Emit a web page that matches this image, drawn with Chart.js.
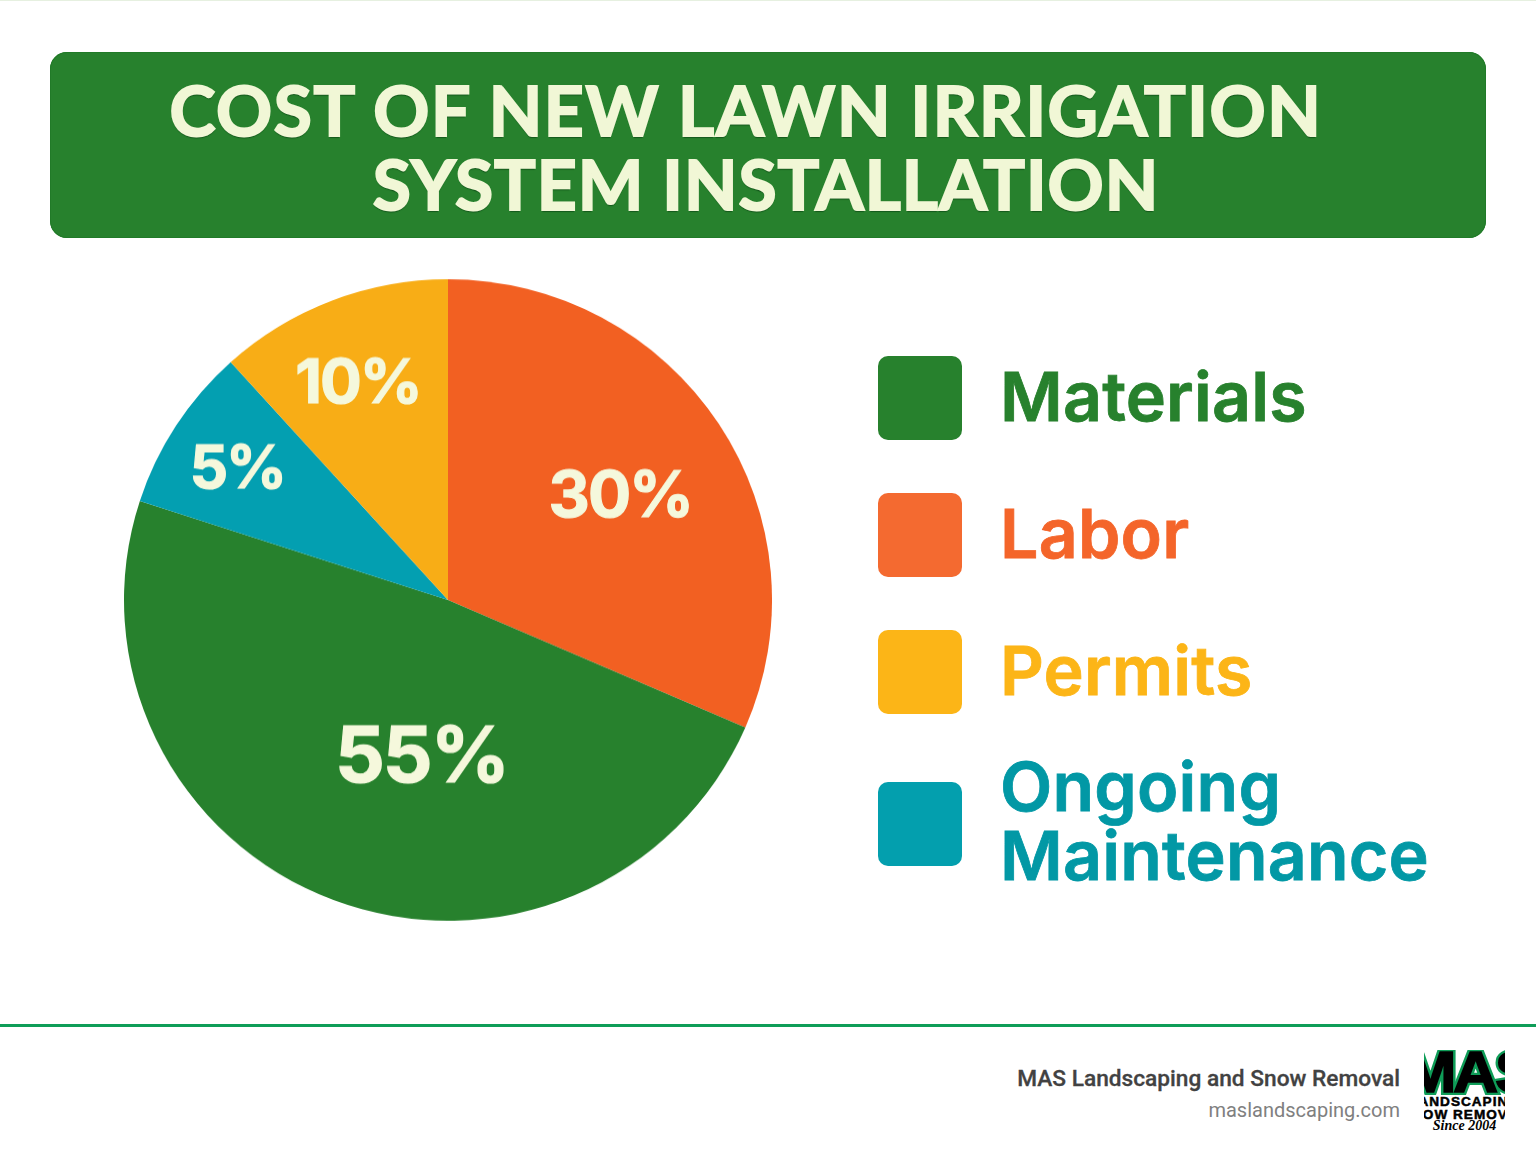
<!DOCTYPE html>
<html>
<head>
<meta charset="utf-8">
<title>Cost of new lawn irrigation system installation</title>
<script src="https://cdn.jsdelivr.net/npm/chart.js@4"></script>
<style>
  html, body { margin: 0; padding: 0; background: #fff; }
  #page { position: relative; width: 1536px; height: 1154px; overflow: hidden; background: #fff; }
  #topline { position: absolute; left: 0; top: 0; width: 1536px; height: 1px; background: #e6f0e0; }
  #banner { position: absolute; left: 50px; top: 52px; width: 1436px; height: 186px; border-radius: 17px; background: #27812d; box-shadow: inset 0 0 0 1px #217a28; }
  #banner div {
    position: absolute; left: 0; text-align: center; white-space: nowrap;
    font: 700 69.5px Lato, sans-serif; color: #f1f7d6;
    -webkit-text-stroke: 2px #f1f7d6; text-shadow: 0 2px 1px #14581c;
  }
  #chartBox { position: absolute; left: 124px; top: 276px; width: 648px; height: 648px; transform: scaleY(0.99); transform-origin: 50% 50%; }
  .swatch { position: absolute; left: 878px; width: 84px; height: 84px; border-radius: 10px; }
  .legendText { position: absolute; left: 1000px; font: 600 68px/69px Inter, sans-serif; letter-spacing: 0.2px; white-space: nowrap; -webkit-text-stroke: 0.8px currentColor; }
  #rule { position: absolute; left: 0; top: 1024px; width: 1536px; height: 3px; background: #0f9d58; }
  #company { position: absolute; right: 136px; top: 1065px; font: 500 22.7px Roboto, sans-serif; color: #424242; white-space: nowrap; -webkit-text-stroke: 0.3px #424242; }
  #site { position: absolute; right: 136px; top: 1098px; font: 400 20px Roboto, sans-serif; color: #808080; white-space: nowrap; }
  #logo { position: absolute; left: 1424px; top: 1050px; width: 81px; height: 86px; overflow: hidden; color: #000; }
  #logo div { position: absolute; text-align: center; white-space: nowrap; }
  .logoBig {
    left: -14px; width: 117px; top: -7px; font: 900 57px/58px "Liberation Sans", sans-serif; letter-spacing: -3px;
    transform: scaleX(1.1);
  }
  #logoBack { color: #0f9d58; -webkit-text-stroke: 6px #0f9d58; }
  #logoFront { color: #000; -webkit-text-stroke: 1.5px #000; }
  .logoSmall { left: -24px; width: 129px; font: 900 13.6px/13px "Liberation Sans", sans-serif; letter-spacing: 1px; -webkit-text-stroke: 0.5px #000; }
  #logoSince { left: 0; width: 81px; top: 69px; font: italic 700 14px/14px "Liberation Serif", serif; }
</style>
</head>
<body>
<div id="page">
  <div id="topline"></div>
  <div id="banner">
    <div style="top:15px;width:1392px;letter-spacing:1.6px">COST OF NEW LAWN IRRIGATION</div>
    <div style="top:89px;width:1432px;letter-spacing:1px">SYSTEM INSTALLATION</div>
  </div>
  <div id="chartBox"><canvas id="pie" width="648" height="648"></canvas></div>
  <div id="legend"></div>
  <div id="rule"></div>
  <div id="company">MAS Landscaping and Snow Removal</div>
  <div id="site">maslandscaping.com</div>
  <div id="logo">
    <div class="logoBig" id="logoBack">MAS</div>
    <div class="logoBig" id="logoFront">MAS</div>
    <div class="logoSmall" style="top:45px">LANDSCAPING</div>
    <div class="logoSmall" style="top:58px">SNOW REMOVAL</div>
    <div id="logoSince">Since 2004</div>
  </div>
</div>
<script>
// slices in clockwise order from 12 o'clock, sizes as drawn in the picture
const categories = ['Labor', 'Materials', 'Ongoing Maintenance', 'Permits'];
const sliceSizes = [31.5, 48.5, 8.3, 11.7];
const sliceLabels = ['30%', '55%', '5%', '10%'];
const sliceColors = ['#f26022', '#27812d', '#039fb1', '#f8ad16'];

// legend order, top to bottom
const legendNames = ['Materials', 'Labor', 'Permits', 'Ongoing Maintenance'];
const legendColors = ['#27812d', '#f46a30', '#fcb517', '#039fae'];
const legendTextColors = ['#27812d', '#f4652a', '#fcb517', '#0298a5'];
const legendSwatchTops = [356, 493, 630, 782];
const legendTextTops = [362, 499, 636, 752];

// where each label sits relative to its slice centre: radius share and angle shift (rad)
const labelRadius = [0.625, 0.4926, 0.77, 0.735];
const labelShift = [0.028, -0.194, -0.01, -0.02];
const labelFont = [64, 78, 60, 62];

const legendEl = document.getElementById('legend');
legendNames.forEach((name, i) => {
  const sw = document.createElement('div');
  sw.className = 'swatch';
  sw.style.top = legendSwatchTops[i] + 'px';
  sw.style.background = legendColors[i];
  legendEl.appendChild(sw);

  const txt = document.createElement('div');
  txt.className = 'legendText';
  txt.style.top = legendTextTops[i] + 'px';
  txt.style.color = legendTextColors[i];
  txt.innerHTML = name.replace(' ', '<br>');
  legendEl.appendChild(txt);
});

const sliceText = {
  id: 'sliceText',
  afterDatasetsDraw(chart) {
    const ctx = chart.ctx;
    chart.getDatasetMeta(0).data.forEach((arc, i) => {
      const mid = (arc.startAngle + arc.endAngle) / 2 + labelShift[i];
      const r = arc.outerRadius * labelRadius[i];
      const x = arc.x + Math.cos(mid) * r;
      const y = arc.y + Math.sin(mid) * r + 3;
      ctx.save();
      ctx.font = '700 ' + labelFont[i] + 'px Inter, sans-serif';
      ctx.letterSpacing = '-2px';
      ctx.fillStyle = '#f5f8dc';
      ctx.strokeStyle = '#f5f8dc';
      ctx.lineWidth = 1.2;
      ctx.textAlign = 'center';
      ctx.textBaseline = 'middle';
      ctx.strokeText(sliceLabels[i], x, y);
      ctx.fillText(sliceLabels[i], x, y);
      ctx.restore();
    });
  }
};

new Chart(document.getElementById('pie'), {
  type: 'pie',
  data: {
    labels: categories,
    datasets: [{ data: sliceSizes, backgroundColor: sliceColors, borderWidth: 0 }]
  },
  options: {
    responsive: false,
    animation: false,
    layout: { padding: 0 },
    plugins: { legend: { display: false }, tooltip: { enabled: false } }
  },
  plugins: [sliceText]
});
</script>
</body>
</html>
